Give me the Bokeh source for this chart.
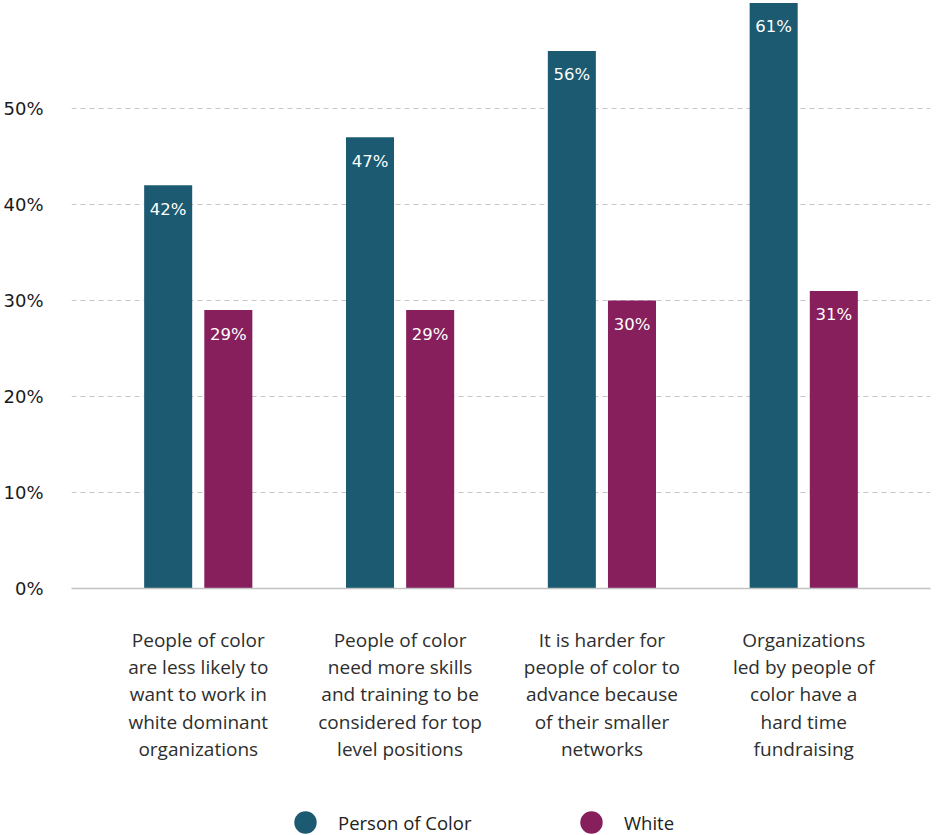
from bokeh.plotting import figure
from bokeh.layouts import column
from bokeh.models import (FactorRange, Range1d, FixedTicker, PrintfTickFormatter,
                          ColumnDataSource, Legend, LegendItem)
from bokeh.transform import dodge
from bokeh.core.properties import value
from bokeh.embed import file_html
from bokeh.resources import INLINE

categories = [
    "People of color\nare less likely to\nwant to work in\nwhite dominant\norganizations",
    "People of color\nneed more skills\nand training to be\nconsidered for top\nlevel positions",
    "It is harder for\npeople of color to\nadvance because\nof their smaller\nnetworks",
    "Organizations\nled by people of\ncolor have a\nhard time\nfundraising",
]
person_of_color = [42, 47, 56, 61]
white = [29, 29, 30, 31]
series_names = ["Person of Color", "White"]
colors = ["#1b5a71", "#871f5c"]
y_ticks = [0, 10, 20, 30, 40, 50]
grid_ticks = [10, 20, 30, 40, 50]

FONT = "Open Sans"
NUM_FONT = "DejaVu Sans"

src = ColumnDataSource(dict(
    cat=categories,
    poc=person_of_color,
    white=white,
    poc_lbl=[f"{v}%" for v in person_of_color],
    white_lbl=[f"{v}%" for v in white],
))

p = figure(
    width=936, height=790,
    x_range=FactorRange(factors=categories, range_padding=0.128, range_padding_units="absolute"),
    y_range=Range1d(0, 61.25),
    output_backend="svg", toolbar_location=None,
    min_border_left=65, min_border_right=6, min_border_top=0, min_border_bottom=202,
)
p.outline_line_color = None
p.background_fill_color = "white"

bw = 0.238
off = 0.149
p.vbar(x=dodge("cat", -off, range=p.x_range), top="poc", width=bw, source=src,
       fill_color=colors[0], line_color=None)
p.vbar(x=dodge("cat", off, range=p.x_range), top="white", width=bw, source=src,
       fill_color=colors[1], line_color=None)

p.text(x=dodge("cat", -off, range=p.x_range), y="poc", text="poc_lbl", source=src,
       text_color="white", text_font=value(NUM_FONT), text_font_size="16.5px",
       text_align="center", text_baseline="middle", y_offset=24)
p.text(x=dodge("cat", off, range=p.x_range), y="white", text="white_lbl", source=src,
       text_color="white", text_font=value(NUM_FONT), text_font_size="16.5px",
       text_align="center", text_baseline="middle", y_offset=24)

# grid
p.xgrid.visible = False
p.ygrid.ticker = FixedTicker(ticks=grid_ticks)
p.ygrid.grid_line_color = "#c6c6c6"
p.ygrid.grid_line_dash = "5 4"
p.ygrid.grid_line_width = 1

# y axis
p.yaxis.ticker = FixedTicker(ticks=y_ticks)
p.yaxis.formatter = PrintfTickFormatter(format="%d%%")
p.yaxis.axis_line_color = None
p.yaxis.major_tick_line_color = None
p.yaxis.minor_tick_line_color = None
p.yaxis.major_label_text_font = NUM_FONT
p.yaxis.major_label_text_font_size = "18px"
p.yaxis.major_label_text_color = "#1a1a1a"
p.yaxis.major_label_standoff = 22

# x axis
p.xaxis.axis_line_color = "#c2c2c2"
p.xaxis.axis_line_width = 1.5
p.xaxis.major_tick_line_color = None
p.xaxis.minor_tick_line_color = None
p.xaxis.major_label_text_font = FONT
p.xaxis.major_label_text_font_size = "19px"
p.xaxis.major_label_text_color = "#2e2e2e"
p.xaxis.major_label_text_line_height = 1.055
p.xaxis.major_label_standoff = 32

# legend in its own strip below the chart
lg = figure(width=936, height=45, x_range=Range1d(0, 1), y_range=Range1d(0, 1),
            output_backend="svg", toolbar_location=None,
            x_axis_type=None, y_axis_type=None,
            min_border_left=0, min_border_right=0, min_border_top=0, min_border_bottom=0)
lg.outline_line_color = None
lg.xgrid.visible = False
lg.ygrid.visible = False
nan = float("nan")
leg_r1 = lg.scatter(x=[nan], y=[nan], marker="circle", size=22, fill_color=colors[0], line_color=None)
leg_r2 = lg.scatter(x=[nan], y=[nan], marker="circle", size=22, fill_color=colors[1], line_color=None)
legend = Legend(
    items=[LegendItem(label=series_names[0], renderers=[leg_r1]),
           LegendItem(label=series_names[1], renderers=[leg_r2])],
    orientation="horizontal", location=(206, -15),
    glyph_width=56, glyph_height=56, label_standoff=5, label_width=134,
    spacing=91, padding=0, margin=0,
    border_line_color=None, background_fill_alpha=0,
    label_text_font=FONT, label_text_font_size="18.5px", label_text_color="#222222",
)
lg.add_layout(legend)

layout = column(p, lg, spacing=0)
open("out.html", "w").write(file_html(layout, INLINE))
